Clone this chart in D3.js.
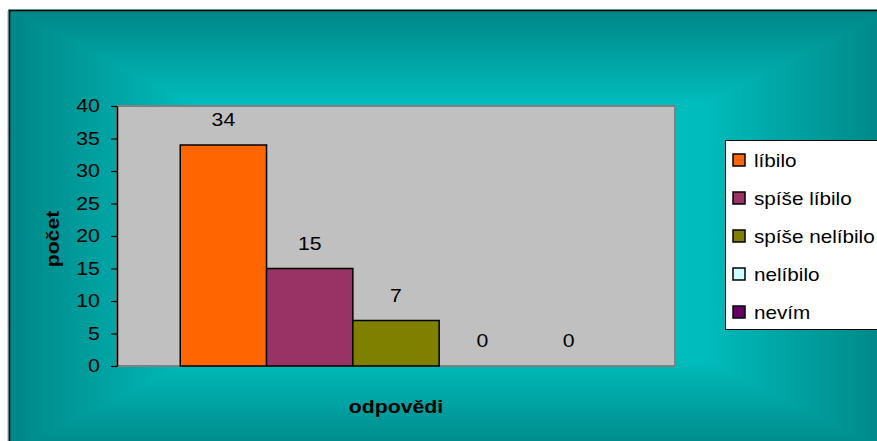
<!DOCTYPE html>
<html lang="cs">
<head>
<meta charset="UTF-8">
<title>odpovědi</title>
<script src="https://d3js.org/d3.v7.min.js"></script>
<style>
  body { margin: 0; padding: 0; background: #fff; }
  svg text { font-family: "Liberation Sans", Arial, sans-serif; fill: #000; }
  .bold { font-weight: bold; }
</style>
</head>
<body>
<div id="canvas"></div>
<script>
// data
var categories = ["líbilo", "spíše líbilo", "spíše nelíbilo", "nelíbilo", "nevím"];
var values = [34, 15, 7, 0, 0];
var colors = ["#ff6600", "#993366", "#808000", "#ccffff", "#660066"];
var yTicks = [0, 5, 10, 15, 20, 25, 30, 35, 40];

var W = 877, H = 441;
var stretch = 1.18;  // the text in the original is drawn a bit wider
var plot = {left: 117, right: 675, top: 106, bottom: 366};

var svg = d3.select("#canvas").append("svg")
    .attr("width", W)
    .attr("height", H);

var defs = svg.append("defs");

// rectangular "from centre" gradient made of 4 triangles
var fx0 = 9, fy0 = 10, fx1 = 889, fy1 = 452;
var cx = (fx0 + fx1) / 2, cy = (fy0 + fy1) / 2;
var stops = [[0, "#008686"], [0.42, "#00bcbc"], [0.7, "#00c8c8"], [1, "#00c8c8"]];
function grad(id, x1, y1, x2, y2) {
    var g = defs.append("linearGradient").attr("id", id)
        .attr("gradientUnits", "userSpaceOnUse")
        .attr("x1", x1).attr("y1", y1).attr("x2", x2).attr("y2", y2);
    stops.forEach(function(s) {
        g.append("stop").attr("offset", s[0]).attr("stop-color", s[1]);
    });
}
grad("gTop", 0, fy0, 0, cy);
grad("gBot", 0, fy1, 0, cy);
grad("gLeft", fx0, 0, cx, 0);
grad("gRight", fx1, 0, cx, 0);

var frame = svg.append("g");
frame.append("rect").attr("x", fx0).attr("y", fy0)
    .attr("width", fx1 - fx0).attr("height", fy1 - fy0).attr("fill", "#00a8a8");
[["gTop", [[fx0, fy0], [fx1, fy0], [cx, cy]]],
 ["gBot", [[fx0, fy1], [fx1, fy1], [cx, cy]]],
 ["gLeft", [[fx0, fy0], [fx0, fy1], [cx, cy]]],
 ["gRight", [[fx1, fy0], [fx1, fy1], [cx, cy]]]].forEach(function(t) {
    frame.append("polygon")
        .attr("points", t[1].join(" "))
        .attr("fill", "url(#" + t[0] + ")")
        .attr("stroke", "url(#" + t[0] + ")")
        .attr("stroke-width", 1.2)
        .attr("stroke-linejoin", "round");
});
frame.append("line").attr("x1", 8).attr("x2", 8).attr("y1", 11).attr("y2", H)
    .attr("stroke", "#a0a0a0").attr("stroke-width", 1);
frame.append("rect").attr("x", fx0 + 0.5).attr("y", fy0 + 0.5)
    .attr("width", fx1 - fx0).attr("height", fy1 - fy0)
    .attr("fill", "none").attr("stroke", "#000").attr("stroke-width", 1.5);

// scales
var x = d3.scaleBand()
    .domain(categories)
    .range([plot.left, plot.right])
    .paddingInner(0)
    .paddingOuter(0.733);

var y = d3.scaleLinear()
    .domain([0, 40])
    .range([plot.bottom, plot.top]);

// plot area
svg.append("rect")
    .attr("x", plot.left).attr("y", plot.top)
    .attr("width", plot.right - plot.left).attr("height", plot.bottom - plot.top)
    .attr("fill", "#c0c0c0").attr("stroke", "#808080").attr("stroke-width", 2);

// bars
svg.append("g").selectAll("rect")
    .data(categories)
    .enter().append("rect")
    .attr("x", function(d) { return x(d); })
    .attr("y", function(d, i) { return y(values[i]); })
    .attr("width", x.bandwidth())
    .attr("height", function(d, i) { return y(0) - y(values[i]); })
    .attr("fill", function(d, i) { return colors[i]; })
    .attr("stroke", function(d, i) { return values[i] > 0 ? "#000" : "none"; })
    .attr("stroke-width", 1.5);

// value labels
svg.append("g").selectAll("text")
    .data(categories)
    .enter().append("text")
    .attr("transform", function(d, i) {
        return "translate(" + (x(d) + x.bandwidth() / 2) + "," + (y(values[i]) - 19) + ") scale(" + stretch + ",1)";
    })
    .attr("text-anchor", "middle")
    .style("font-size", "18px")
    .text(function(d, i) { return values[i]; });

// y axis
var yAxis = svg.append("g")
    .attr("transform", "translate(" + plot.left + ",0)")
    .call(d3.axisLeft(y).tickValues(yTicks).tickSize(6).tickPadding(8.5).tickSizeOuter(0));
yAxis.select(".domain").attr("stroke", "#000").attr("stroke-width", 1.5);
yAxis.selectAll(".tick line").attr("stroke", "#000").attr("stroke-width", 1.2);
yAxis.selectAll(".tick text")
    .attr("transform", "scale(" + stretch + ",1)")
    .style("font-size", "18px")
    .style("font-family", "\"Liberation Sans\", Arial, sans-serif")
    .attr("fill", "#000");

// axis titles
svg.append("text")
    .attr("class", "bold")
    .attr("transform", "translate(59,239) rotate(-90) scale(" + stretch + ",1)")
    .attr("text-anchor", "middle")
    .style("font-size", "18px")
    .text("počet");

svg.append("text")
    .attr("class", "bold")
    .attr("transform", "translate(396,413) scale(" + stretch + ",1)")
    .attr("text-anchor", "middle")
    .style("font-size", "18px")
    .text("odpovědi");

// legend
var legend = svg.append("g").attr("transform", "translate(725,140)");
legend.append("rect")
    .attr("x", 0.5).attr("y", 0.5).attr("width", 170).attr("height", 189)
    .attr("fill", "#fff").attr("stroke", "#000").attr("stroke-width", 1);

var item = legend.selectAll(".item")
    .data(categories)
    .enter().append("g")
    .attr("class", "item")
    .attr("transform", function(d, i) { return "translate(0," + (20 + i * 38) + ")"; });

item.append("rect")
    .attr("x", 8).attr("y", -6).attr("width", 12).attr("height", 12)
    .attr("fill", function(d, i) { return colors[i]; })
    .attr("stroke", "#000").attr("stroke-width", 1.5);

item.append("text")
    .attr("transform", "translate(29,6.5) scale(" + (stretch - 0.03) + ",1)")
    .style("font-size", "18px")
    .text(function(d) { return d; });
</script>
</body>
</html>
